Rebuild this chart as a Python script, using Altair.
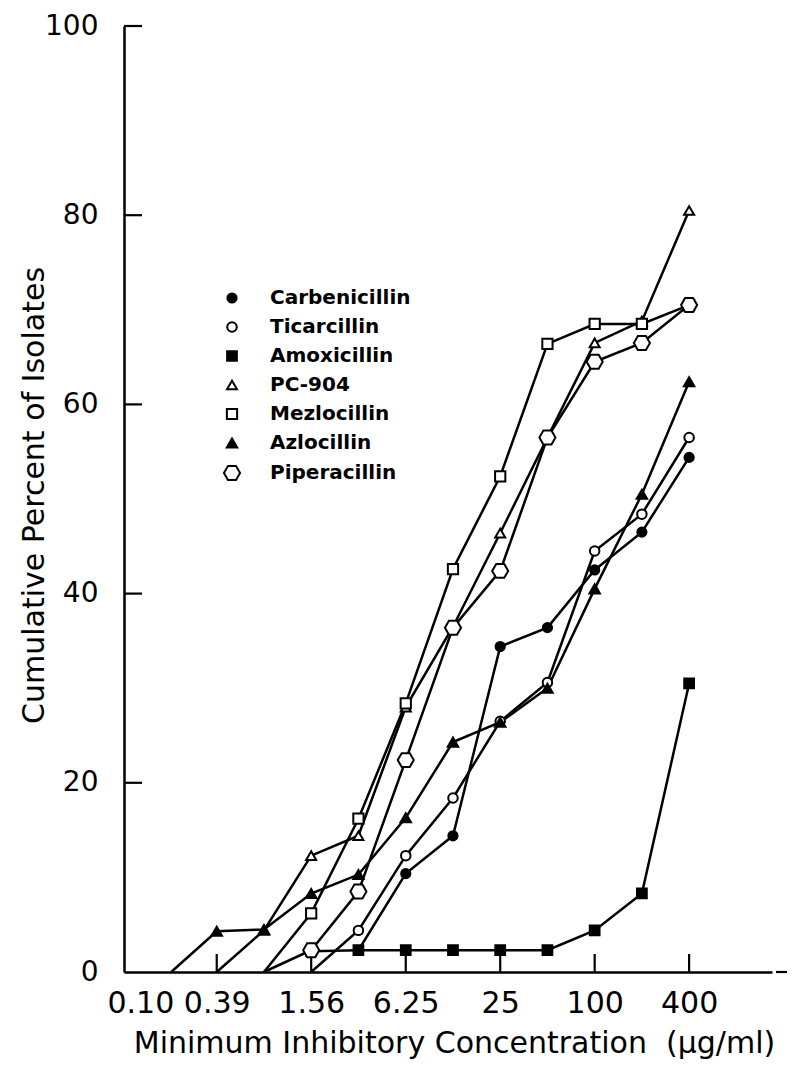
import altair as alt
import pandas as pd

DRUGS = ["Carbenicillin", "Ticarcillin", "Amoxicillin", "PC-904",
         "Mezlocillin", "Azlocillin", "Piperacillin"]

CARB_X = [3.12, 6.25, 12.5, 25, 50, 100, 200, 400]
CARB_Y = [2.3, 10.4, 14.4, 34.4, 36.4, 42.5, 46.5, 54.4]

TICA_X = [1.56, 3.12, 6.25, 12.5, 25, 50, 100, 200, 400]
TICA_Y = [0, 4.4, 12.3, 18.4, 26.5, 30.6, 44.5, 48.4, 56.5]

AMOX_X = [1.56, 3.12, 6.25, 12.5, 25, 50, 100, 200, 400]
AMOX_Y = [2.2, 2.3, 2.3, 2.3, 2.3, 2.3, 4.4, 8.3, 30.5]

PC904_X = [0.39, 0.78, 1.56, 3.12, 6.25, 12.5, 25, 50, 100, 200, 400]
PC904_Y = [0, 4.4, 12.3, 14.4, 28.0, 36.5, 46.4, 56.5, 66.5, 68.8, 80.5]

MEZL_X = [0.78, 1.56, 3.12, 6.25, 12.5, 25, 50, 100, 200, 400]
MEZL_Y = [0, 6.2, 16.2, 28.4, 42.6, 52.4, 66.4, 68.5, 68.5, 70.5]

AZLO_X = [0.2, 0.39, 0.78, 1.56, 3.12, 6.25, 12.5, 25, 50, 100, 200, 400]
AZLO_Y = [0, 4.3, 4.5, 8.3, 10.3, 16.3, 24.3, 26.4, 30.0, 40.5, 50.5, 62.4]

PIPE_X = [0.78, 1.56, 3.12, 6.25, 12.5, 25, 50, 100, 200, 400]
PIPE_Y = [0, 2.3, 8.5, 22.4, 36.4, 42.4, 56.5, 64.5, 66.5, 70.5]

X_TICKS = [0.39, 1.56, 6.25, 25, 100, 400]
X_LABELS = [0.1, 0.39, 1.56, 6.25, 25, 100, 400]
Y_TICKS = [20, 40, 60, 80, 100]
Y_LABELS = [0, 20, 40, 60, 80, 100]

series = [
    ("Carbenicillin", CARB_X, CARB_Y),
    ("Ticarcillin", TICA_X, TICA_Y),
    ("Amoxicillin", AMOX_X, AMOX_Y),
    ("PC-904", PC904_X, PC904_Y),
    ("Mezlocillin", MEZL_X, MEZL_Y),
    ("Azlocillin", AZLO_X, AZLO_Y),
    ("Piperacillin", PIPE_X, PIPE_Y),
]
rows = []
for name, xs, ys in series:
    for xv, yv in zip(xs, ys):
        rows.append({"drug": name, "mic": xv, "pct": yv})
df = pd.DataFrame(rows)

HEX = "M-1.5,0L-0.75,-1.3L0.75,-1.3L1.5,0L0.75,1.3L-0.75,1.3Z"
SHAPES = ["circle", "circle", "square", "triangle-up", "square", "triangle-up", HEX]
FILLS = ["black", "white", "black", "white", "white", "black", "white"]
STROKES = ["black"] * 7
SIZES = [85, 115, 95, 190, 150, 115, 115]

FONT = "DejaVu Sans"
W, H = 648, 946

xscale = alt.Scale(type="log", domain=[0.1, 1350], nice=False)
yscale = alt.Scale(domain=[0, 100], nice=False)

lines = alt.Chart(df).mark_line(color="black", strokeWidth=2.5).encode(
    x=alt.X("mic:Q", scale=xscale, axis=alt.Axis(
        values=X_LABELS,
        labelExpr="datum.value < 10 ? format(datum.value, '.2f') : format(datum.value, 'd')",
        ticks=False, grid=False, domainWidth=2.5, domainColor="black",
        labelFont=FONT, labelFontSize=30, labelColor="black", labelPadding=16,
        labelFlush=True, labelFlushOffset=17,
        title="Minimum Inhibitory Concentration\u00a0 (\u03bcg/ml)",
        titleFont=FONT, titleFontSize=30, titleFontWeight="normal", titleColor="black",
        titleX=330, titleY=80, titleBaseline="alphabetic",
    )),
    y=alt.Y("pct:Q", scale=yscale, axis=alt.Axis(
        values=Y_LABELS, format="d",
        ticks=False, grid=False, domainWidth=2.5, domainColor="black",
        labelFont=FONT, labelFontSize=28, labelColor="black", labelPadding=26,
        title="Cumulative Percent of Isolates",
        titleFont=FONT, titleFontSize=30, titleFontWeight="normal", titleColor="black",
        titleX=-90, titleY=469, titleBaseline="middle",
    )),
    detail="drug:N",
)

points = alt.Chart(df).transform_filter("datum.pct > 0").mark_point(
    strokeWidth=2, opacity=1, fillOpacity=1
).encode(
    x=alt.X("mic:Q", scale=xscale),
    y=alt.Y("pct:Q", scale=yscale),
    shape=alt.Shape("drug:N", scale=alt.Scale(domain=DRUGS, range=SHAPES), legend=alt.Legend(title=None)),
    fill=alt.Fill("drug:N", scale=alt.Scale(domain=DRUGS, range=FILLS), legend=alt.Legend(title=None)),
    stroke=alt.Stroke("drug:N", scale=alt.Scale(domain=DRUGS, range=STROKES), legend=alt.Legend(title=None)),
    size=alt.Size("drug:N", scale=alt.Scale(domain=DRUGS, range=SIZES), legend=alt.Legend(title=None)),
)

xt = alt.Chart(pd.DataFrame({"mic": X_TICKS})).mark_rule(color="black", strokeWidth=2.2).encode(
    x=alt.X("mic:Q", scale=xscale),
    y=alt.value(H), y2=alt.value(H - 18),
)
yt = alt.Chart(pd.DataFrame({"pct": Y_TICKS})).mark_rule(color="black", strokeWidth=2.2).encode(
    y=alt.Y("pct:Q", scale=yscale),
    x=alt.value(0), x2=alt.value(18),
)
dash = alt.Chart(pd.DataFrame({"pct": [0]})).mark_rule(color="black", strokeWidth=2.2).encode(
    y=alt.Y("pct:Q", scale=yscale),
    x=alt.value(W + 4), x2=alt.value(W + 16),
)

chart = alt.layer(lines, xt, yt, dash, points).properties(
    width=W, height=H,
    autosize=alt.AutoSizeParams(type="none"),
    padding={"left": 116, "top": 18, "right": 15, "bottom": 88},
).configure_view(stroke=None).configure_legend(
    orient="none", legendX=98, legendY=262, padding=0,
    labelFont=FONT, labelFontSize=20, labelFontWeight="bold", labelColor="black",
    symbolStrokeWidth=2, rowPadding=9, labelOffset=28,
)

chart.save("out.html", embed_options={"renderer": "svg", "actions": False})
